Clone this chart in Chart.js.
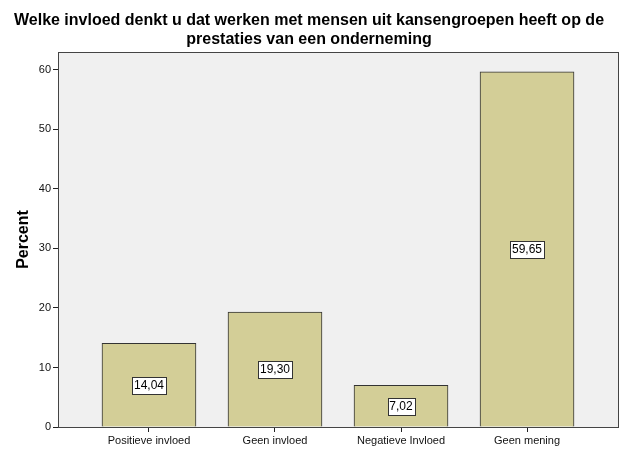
<!DOCTYPE html>
<html>
<head>
<meta charset="utf-8">
<script src="https://cdn.jsdelivr.net/npm/chart.js@4/dist/chart.umd.min.js"></script>
<style>
  html, body { margin: 0; padding: 0; background: #fff; }
  #wrap { width: 626px; height: 453px; }
</style>
</head>
<body>
<div id="wrap"><canvas id="chart"></canvas></div>
<script>
// --- data ---
const categories = ['Positieve invloed', 'Geen invloed', 'Negatieve Invloed', 'Geen mening'];
const percents = [14.04, 19.30, 7.02, 59.65];
const yTicks = [0, 10, 20, 30, 40, 50, 60];
const titleLines = ['Welke invloed denkt u dat werken met mensen uit kansengroepen heeft op de', 'prestaties van een onderneming'];

const FONT = "'Liberation Sans', Arial, sans-serif";

// grey plot background + frame
const plotFrame = {
  id: 'plotFrame',
  beforeDraw(chart) {
    const { ctx, chartArea: a } = chart;
    ctx.save();
    ctx.fillStyle = '#f0f0f0';
    ctx.fillRect(a.left, a.top, a.right - a.left, a.bottom - a.top);
    ctx.restore();
  },
  afterDraw(chart) {
    const { ctx, chartArea: a } = chart;
    ctx.save();
    ctx.strokeStyle = '#444';
    ctx.lineWidth = 1;
    ctx.strokeRect(Math.round(a.left) + 0.5, Math.round(a.top) + 0.5,
      Math.round(a.right - a.left), Math.round(a.bottom - a.top));
    ctx.restore();
  }
};

// boxed value labels in the middle of each bar
const valueBoxes = {
  id: 'valueBoxes',
  afterDatasetsDraw(chart) {
    const { ctx } = chart;
    const meta = chart.getDatasetMeta(0);
    ctx.save();
    ctx.font = '12px ' + FONT;
    ctx.textAlign = 'center';
    ctx.textBaseline = 'middle';
    meta.data.forEach((bar, i) => {
      const txt = percents[i].toFixed(2).replace('.', ',');
      const cy = Math.round((bar.y + bar.base) / 2);
      const cx = Math.round(bar.x);
      const w = Math.ceil(ctx.measureText(txt).width) + 3;
      const h = 17;
      const x0 = Math.round(cx - w / 2) + 0.5, y0 = Math.round(cy - h / 2) + 0.5;
      ctx.fillStyle = '#fff';
      ctx.fillRect(x0, y0, w, h);
      ctx.strokeStyle = '#333';
      ctx.lineWidth = 1;
      ctx.strokeRect(x0, y0, w, h);
      ctx.fillStyle = '#000';
      ctx.fillText(txt, cx, cy + 1);
    });
    ctx.restore();
  }
};

new Chart(document.getElementById('chart'), {
  type: 'bar',
  data: {
    datasets: [{
      data: percents.map((v, i) => ({ x: i, y: v })),
      backgroundColor: '#d3ce97',
      borderColor: '#333',
      borderWidth: 1,
      barThickness: 94
    }]
  },
  options: {
    responsive: true,
    maintainAspectRatio: false,
    animation: false,
    layout: { padding: { top: 0, right: 8, bottom: 0, left: 0 } },
    plugins: {
      legend: { display: false },
      tooltip: { enabled: false },
      title: {
        display: true,
        text: titleLines,
        color: '#000',
        font: { family: FONT, size: 16, weight: 'bold', lineHeight: '19px' },
        padding: { top: 11, bottom: 3 }
      }
    },
    scales: {
      x: {
        type: 'linear',
        offset: false,
        min: -0.722,
        max: 3.722,
        afterBuildTicks(s) { s.ticks = categories.map((c, i) => ({ value: i })); },
        afterFit(s) { s.height = 26; },
        grid: { offset: false, drawOnChartArea: false, drawTicks: true, tickLength: 5, color: '#222' },
        border: { display: true, color: '#222' },
        ticks: {
          color: '#111',
          padding: 2,
          maxRotation: 0,
          autoSkip: false,
          font: { family: FONT, size: 11 },
          callback: v => categories[v]
        }
      },
      y: {
        min: 0,
        max: 63,
        afterBuildTicks(s) { s.ticks = yTicks.map(v => ({ value: v })); },
        afterFit(s) { s.width = 58; },
        grid: { drawOnChartArea: false, drawTicks: true, tickLength: 5, color: '#222' },
        border: { display: true, color: '#222' },
        ticks: { color: '#111', padding: 2, font: { family: FONT, size: 11 } },
        title: {
          display: true,
          text: 'Percent',
          color: '#000',
          font: { family: FONT, size: 16, weight: 'bold' },
          padding: { top: 14, bottom: 0 }
        }
      }
    }
  },
  plugins: [plotFrame, valueBoxes]
});
</script>
</body>
</html>
